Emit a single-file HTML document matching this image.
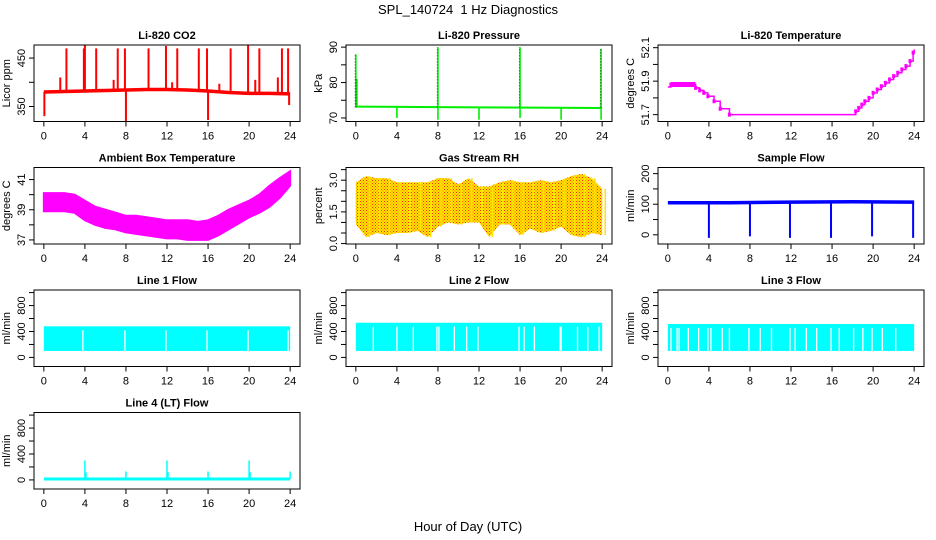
<!DOCTYPE html>
<html><head><meta charset="utf-8"><style>
body{margin:0;background:#fff}
svg{display:block;font-family:"Liberation Sans",sans-serif}
</style></head><body>
<svg id="c" width="936" height="540" viewBox="0 0 936 540" xmlns="http://www.w3.org/2000/svg">
<defs>
<pattern id="rhpat" width="3" height="3" patternUnits="userSpaceOnUse">
<rect width="3" height="3" fill="#ffe600"/><rect x="0" y="0" width="1" height="1" fill="#ff2a00"/><rect x="1.5" y="1.5" width="1" height="1" fill="#ff5000"/>
</pattern>
</defs>
<text x="468" y="14" font-size="13" text-anchor="middle" style="white-space:pre">SPL_140724  1 Hz Diagnostics</text>
<text x="468" y="531" font-size="13" text-anchor="middle">Hour of Day (UTC)</text>
</svg>
<script>
// ---------- data ----------
const xTicks = [0,4,8,12,16,20,24];
const co2BaseHours = [0,2,4,6,8,10,12,14,16,18,20,22,24];
const co2BaseVals = [380,381,382,383,384,385,385,384,382,379,377,377,376];
const co2SpikeHours = [0.05,1.6,2.2,3.9,4.0,5.1,6.8,7.2,7.9,8.0,10.2,11.9,12.5,13.0,15.1,15.9,16.0,17.1,18.2,19.9,20.6,21.0,22.8,23.2,23.8,23.9];
const co2SpikeVals = [330,410,470,470,477,470,405,470,470,320,470,475,400,470,470,470,322,397,470,477,405,470,410,470,470,353];
const presSpikeHours = [0.0,0.1,4.0,8.0,8.0,12.0,16.0,16.0,20.0,23.9,23.9];
const presSpikeVals = [88,81,70,90,69.5,69.5,90,70,69.5,89.5,69.5];
const presBase = [73.2,73.0,72.8];
const tempStepHours = [0,0.3,2.7,3.1,3.5,3.9,4.5,5.1,6.0,18.3,18.6,18.9,19.2,19.6,20.0,20.4,20.8,21.2,21.6,22.0,22.4,22.8,23.2,23.6,23.9,24];
const tempStepVals = [51.865,51.88,51.86,51.845,51.83,51.81,51.78,51.735,51.70,51.72,51.74,51.76,51.78,51.80,51.83,51.85,51.87,51.89,51.91,51.93,51.95,51.97,51.99,52.02,52.07,52.09];
const ambHours = [0,1,2,3,4,5,6,7,8,9,10,11,12,13,14,15,16,17,18,19,20,21,22,23,24];
const ambHi = [40.1,40.1,40.1,40.0,39.6,39.2,39.0,38.8,38.6,38.6,38.5,38.4,38.3,38.3,38.3,38.2,38.3,38.6,39.0,39.3,39.6,40.0,40.6,41.1,41.55];
const ambLo = [38.9,38.9,38.9,38.8,38.3,38.0,37.8,37.7,37.5,37.4,37.3,37.2,37.1,37.1,37.0,37.0,37.0,37.3,37.7,38.1,38.5,38.8,39.2,39.8,40.6];
const rhHours = [0,1,2,3,4,5,6,7,8,9,10,11,12,13,14,15,16,17,18,19,20,21,22,23,24];
const rhHi = [2.9,3.2,3.1,3.1,2.9,2.9,2.9,2.9,3.1,3.1,2.8,3.1,2.7,2.7,2.9,3.0,2.9,2.9,3.0,2.9,3.0,3.2,3.3,3.1,2.6];
const rhLo = [0.9,0.3,0.5,0.4,0.5,0.5,0.6,0.3,0.8,1.0,0.9,1.0,1.0,0.3,0.9,0.9,0.4,0.7,0.5,0.6,0.8,0.4,0.3,0.5,0.4];
const sfBase = [105,105,107,108,107];
const sfDipHours = [4.0,8.0,11.9,15.9,19.9,23.9];
const sfDipVals = [-10,-5,-10,-10,-5,-10];
const l1Hi = 480, l2Hi = 535, l3Hi = 515, lineLo = 100;
const l1Gaps = [3.8,7.9,11.9,15.9,19.9,23.8];
const l2Gaps = [1.7,4.0,5.6,7.9,8.1,9.6,10.8,11.9,15.9,16.4,17.4,19.9,20.0,21.6,22.6,23.7];
const l3Gaps = [0.3,0.9,1.1,2.0,3.0,3.9,4.2,5.3,6.0,7.9,9.0,10.1,11.9,12.4,13.5,14.5,15.9,16.7,18.1,19.0,19.9,20.9,22.2];
const l4SpikeHours = [4.0,4.1,8.0,12.0,12.1,16.0,20.0,20.1,24.0];
const l4SpikeVals = [300,120,130,300,120,130,300,120,130];
const l4Base = 15;

// ---------- helpers ----------
const svg = document.getElementById('c');
const NS = 'http://www.w3.org/2000/svg';
function mk(tag, attrs, parent){const e=document.createElementNS(NS,tag);for(const k in attrs)e.setAttribute(k,attrs[k]);(parent||svg).appendChild(e);return e;}
const colL=[34,346,658], rowT=[45,167.5,290,412.5], W=266, H=76.5;

function panel(r,c,title,ylab,dom,ticks,labels,name){
  const L=colL[c], T=rowT[r], B=T+H;
  const g=mk('g',{});
  
  
  const xs=h=>L+(h+0.96)/25.92*W;
  const ys=v=>B-(v-dom[0])/(dom[1]-dom[0])*H;
  const plot=mk('g',{},g);
  
  
  const fr=mk('rect',{x:L,y:T,width:W,height:H,fill:'none',stroke:'#000','stroke-width':1},g);
  
  
  const t=mk('text',{x:L+W/2,y:T-6,'font-size':11,'font-weight':'bold','text-anchor':'middle'},g);
  
  
  t.textContent=title;
  const xa=mk('g',{},g);
  
  
  mk('line',{x1:xs(0),x2:xs(24),y1:B,y2:B,stroke:'#000'},xa);
  xTicks.forEach(h=>{
    mk('line',{x1:xs(h),x2:xs(h),y1:B,y2:B+5,stroke:'#000'},xa);
    const tl=mk('text',{x:xs(h),y:B+18,'font-size':11,'text-anchor':'middle'},xa);
    
    
    tl.textContent=h;
  });
  const ya=mk('g',{},g);
  
  
  mk('line',{x1:L,x2:L,y1:ys(ticks[0]),y2:ys(ticks[ticks.length-1]),stroke:'#000'},ya);
  ticks.forEach((v,i)=>{
    mk('line',{x1:L-5,x2:L,y1:ys(v),y2:ys(v),stroke:'#000'},ya);
    if(labels[i]!==''){
      const tl=mk('text',{x:L-9,y:ys(v),'font-size':11,'text-anchor':'middle',transform:`rotate(-90 ${L-9} ${ys(v)})`},ya);
      
      
      tl.textContent=labels[i];
    }
  });
  const yl=mk('text',{x:L-24,y:T+H/2,'font-size':11,'text-anchor':'middle',transform:`rotate(-90 ${L-24} ${T+H/2})`},g);
  
  
  yl.textContent=ylab;
  return {xs,ys,plot};
}
function vline(p,h,v1,v2,col,w){return mk('line',{x1:p.xs(h),x2:p.xs(h),y1:p.ys(v1),y2:p.ys(v2),stroke:col,'stroke-width':w},p.plot);}

// CO2
let p=panel(0,0,'Li-820 CO2','Licor ppm',[319,477],[350,400,450],['350','','450'],'co2');
mk('polyline',{points:co2BaseHours.map((h,i)=>p.xs(h)+','+p.ys(co2BaseVals[i])).join(' '),fill:'none',stroke:'#ff0000','stroke-width':3.5},p.plot);
co2SpikeHours.forEach((h,i)=>{const b=co2BaseVals[Math.min(co2BaseVals.length-1,Math.round(h/2))];vline(p,h,b,co2SpikeVals[i],'#ff0000',2);});

// Pressure
p=panel(0,1,'Li-820 Pressure','kPa',[69,90.6],[70,75,80,85,90],['70','','80','','90'],'pressure');
mk('polyline',{points:[0,12,24].map((h,i)=>p.xs(h)+','+p.ys(presBase[i])).join(' '),fill:'none',stroke:'#00ee00','stroke-width':2},p.plot);
presSpikeHours.forEach((h,i)=>{vline(p,h,73,presSpikeVals[i],'#00ee00',1.6);});
presSpikeHours.forEach((h,i)=>{if(presSpikeVals[i]>80)mk('line',{x1:p.xs(h)-0.8,x2:p.xs(h)-0.8,y1:p.ys(73),y2:p.ys(presSpikeVals[i]),stroke:'#000','stroke-width':0.6,'stroke-dasharray':'1 2'},p.plot);});

// Temperature
p=panel(0,2,'Li-820 Temperature','degrees C',[51.659,52.116],[51.7,51.8,51.9,52.0,52.1],['51.7','','51.9','','52.1'],'li820-temp');
{let pts=[];tempStepHours.forEach((h,i)=>{if(i>0)pts.push(p.xs(h)+','+p.ys(tempStepVals[i-1]));pts.push(p.xs(h)+','+p.ys(tempStepVals[i]));});
mk('polyline',{points:pts.join(' '),fill:'none',stroke:'#ff00ff','stroke-width':1.5},p.plot);
mk('rect',{x:p.xs(0.3),y:p.ys(51.895),width:p.xs(2.7)-p.xs(0.3),height:p.ys(51.865)-p.ys(51.895),fill:'#ff00ff'},p.plot);
tempStepHours.forEach((h,i)=>{if(i>0&&i<tempStepHours.length-1)mk('rect',{x:p.xs(h)-1.5,y:p.ys(tempStepVals[i]+0.012),width:3,height:p.ys(tempStepVals[i]-0.012)-p.ys(tempStepVals[i]+0.012),fill:'#ff00ff'},p.plot);});}

// Ambient box temp
p=panel(1,0,'Ambient Box Temperature','degrees C',[36.73,41.8],[37,38,39,40,41],['37','','39','','41'],'ambient-temp');
mk('polygon',{points:ambHours.map((h,i)=>p.xs(h)+','+p.ys(ambHi[i])).concat(ambHours.slice().reverse().map((h,j)=>{const i=ambHours.length-1-j;return p.xs(h)+','+p.ys(ambLo[i]);})).join(' '),fill:'#ff00ff',stroke:'#ff00ff','stroke-width':2},p.plot);

// Gas stream RH
p=panel(1,1,'Gas Stream RH','percent',[-0.02,3.6],[0,0.5,1,1.5,2,2.5,3,3.5],['0.0','','','1.5','','','3.0',''],'rh');
mk('polygon',{points:rhHours.map((h,i)=>p.xs(h)+','+p.ys(rhHi[i])).concat(rhHours.slice().reverse().map((h,j)=>{const i=rhHours.length-1-j;return p.xs(h)+','+p.ys(rhLo[i]);})).join(' '),fill:'url(#rhpat)'},p.plot);
mk('rect',{x:p.xs(0),y:p.ys(2.4),width:p.xs(24)-p.xs(0),height:p.ys(1.1)-p.ys(2.4),fill:'url(#rhpat)'},p.plot);
rhHours.forEach((h,i)=>{vline(p,h+0.3,rhLo[i],rhHi[i],'#ffe600',1.5);});

// Sample flow
p=panel(1,2,'Sample Flow','ml/min',[-30,220],[0,50,100,150,200],['0','','100','','200'],'sample-flow');
mk('polyline',{points:[0,6,12,18,24].map((h,i)=>p.xs(h)+','+p.ys(sfBase[i])).join(' '),fill:'none',stroke:'#0000ff','stroke-width':3.5},p.plot);
sfDipHours.forEach((h,i)=>{vline(p,h,105,sfDipVals[i],'#0000ff',2);});

// Line flows
function flow(r,c,title,hi,gaps,name){
  const q=panel(r,c,title,'ml/min',[-140,1040],[0,200,400,600,800,1000],['0','','400','','800',''],name);
  mk('rect',{x:q.xs(0),y:q.ys(hi),width:q.xs(24)-q.xs(0),height:q.ys(lineLo)-q.ys(hi),fill:'#00ffff'},q.plot);
  gaps.forEach(h=>vline(q,h,lineLo,hi-60,'#fff',1.3));
  return q;
}
flow(2,0,'Line 1 Flow',l1Hi,l1Gaps,'line1-flow');
flow(2,1,'Line 2 Flow',l2Hi,l2Gaps,'line2-flow');
flow(2,2,'Line 3 Flow',l3Hi,l3Gaps,'line3-flow');
p=panel(3,0,'Line 4 (LT) Flow','ml/min',[-140,1040],[0,200,400,600,800,1000],['0','','400','','800',''],'line4-flow');
mk('line',{x1:p.xs(0),x2:p.xs(24),y1:p.ys(l4Base),y2:p.ys(l4Base),stroke:'#00ffff','stroke-width':3},p.plot);
l4SpikeHours.forEach((h,i)=>vline(p,h,l4Base,l4SpikeVals[i],'#00ffff',1.5));
</script>
</body></html>
